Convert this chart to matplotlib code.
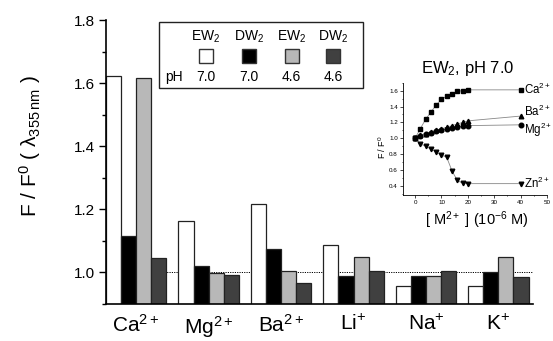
import matplotlib
matplotlib.use("Agg")
import matplotlib.pyplot as plt
import numpy as np
from matplotlib.patches import Rectangle
from matplotlib.ticker import MultipleLocator

plt.rcParams['font.family'] = ['Liberation Sans', 'DejaVu Sans']
plt.rcParams['mathtext.fontset'] = 'custom'
plt.rcParams['mathtext.rm'] = 'Liberation Sans'
plt.rcParams['mathtext.it'] = 'Liberation Sans:italic'
plt.rcParams['mathtext.bf'] = 'Liberation Sans:bold'

# ---------------- data ----------------
ions = ['Ca$^{2+}$', 'Mg$^{2+}$', 'Ba$^{2+}$', 'Li$^{+}$', 'Na$^{+}$', 'K$^{+}$']
ew2_ph70 = [1.622, 1.162, 1.218, 1.088, 0.957, 0.957]
dw2_ph70 = [1.117, 1.020, 1.074, 0.990, 0.988, 1.000]
ew2_ph46 = [1.617, 0.999, 1.004, 1.048, 0.990, 1.050]
dw2_ph46 = [1.045, 0.992, 0.966, 1.004, 1.004, 0.987]
series_names = ['EW$_2$', 'DW$_2$', 'EW$_2$', 'DW$_2$']
series_ph = ['7.0', '7.0', '4.6', '4.6']

# inset titration data
conc = [0, 2, 4, 6, 8, 10, 12, 14, 16, 18, 20, 40]
ca_fit = [1.0, 1.123, 1.24, 1.33, 1.42, 1.49, 1.53, 1.56, 1.59, 1.60, 1.61, 1.61]
ba_fit = [1.0, 1.04, 1.06, 1.08, 1.10, 1.12, 1.14, 1.16, 1.18, 1.20, 1.22, 1.28]
mg_fit = [1.0, 1.03, 1.05, 1.07, 1.09, 1.10, 1.12, 1.13, 1.14, 1.15, 1.16, 1.17]
zn_fit = [1.0, 0.93, 0.90, 0.865, 0.83, 0.79, 0.76, 0.59, 0.47, 0.435, 0.43, 0.43]
inset_labels = ['Ca$^{2+}$', 'Ba$^{2+}$', 'Mg$^{2+}$', 'Zn$^{2+}$']

# ---------------- figure ----------------
W, H = 553, 341
fig = plt.figure(figsize=(W / 100, H / 100), dpi=100)
ax = fig.add_axes([106 / W, 1 - 304 / H, (533 - 106) / W, (304 - 20) / H])

colors = ['white', 'black', '#b8b8b8', '#404040']
all_series = [ew2_ph70, dw2_ph70, ew2_ph46, dw2_ph46]
x = np.arange(len(ions))
w = 0.207
for i, (vals, c) in enumerate(zip(all_series, colors)):
    ax.bar(x + (i - 1.5) * w, vals, width=w, color=c, edgecolor='#222222',
           linewidth=0.9, zorder=2)

ax.axhline(1.0, color='black', linestyle=(0, (1.2, 1.2)), linewidth=0.7, zorder=1)
ax.set_xlim(-2 * w, 5.476)
ax.set_ylim(0.9, 1.8)
ax.set_xticks(x)
ax.set_xticklabels(ions, fontsize=15)
ax.tick_params(axis='x', length=0, pad=7)
ax.yaxis.set_minor_locator(MultipleLocator(0.1))
ax.set_yticks([1.0, 1.2, 1.4, 1.6, 1.8])
ax.set_yticklabels(['%.1f' % v for v in [1.0, 1.2, 1.4, 1.6, 1.8]], fontsize=11)
ax.tick_params(axis='y', which='major', length=5, width=1, direction='out', pad=3)
ax.tick_params(axis='y', which='minor', length=3, width=1, direction='out')
for s in ['top', 'right']:
    ax.spines[s].set_visible(False)
for s in ['left', 'bottom']:
    ax.spines[s].set_linewidth(1.2)
ax.set_ylabel('F / F$^{0}$ ( λ$_{355\\,\\mathrm{nm}}$ )', fontsize=15)
ax.yaxis.set_label_coords(-0.148, 0.556)

# ---------------- legend box (pixel overlay) ----------------
ov = fig.add_axes([0, 0, 1, 1], zorder=5)
ov.set_xlim(0, W)
ov.set_ylim(H, 0)
ov.axis('off')
ov.add_patch(Rectangle((159, 21.5), 204, 66, facecolor='white', edgecolor='#222222', lw=1.0))
col_x = [205.5, 249, 291.5, 333]
for cx, name, ph, c in zip(col_x, series_names, series_ph, colors):
    ov.text(cx, 37, name, ha='center', va='center', fontsize=10)
    ov.add_patch(Rectangle((cx - 7, 49), 14, 14, facecolor=c, edgecolor='#333333', lw=1.0))
    ov.text(cx, 77, ph, ha='center', va='center', fontsize=10)
ov.text(165, 77, 'pH', ha='left', va='center', fontsize=10)

# ---------------- inset ----------------
ai = fig.add_axes([402.7 / W, 1 - 195 / H, (547 - 402.7) / W, (195 - 82.7) / H], zorder=4)
ai.patch.set_alpha(0)
markers = ['s', '^', 'o', 'v']
for vals, m in zip([ca_fit, ba_fit, mg_fit, zn_fit], markers):
    ai.plot(conc, vals, color='#888888', lw=0.6, zorder=1)
    ai.plot(conc, vals, linestyle='none', marker=m, color='black', markersize=3.3, zorder=2)
label_off = [0.0, 0.06, -0.06, 0.0]
for vals, lab, off in zip([ca_fit, ba_fit, mg_fit, zn_fit], inset_labels, label_off):
    ai.text(41.3, vals[-1] + off, lab, fontsize=8.3, ha='left', va='center', clip_on=False)
ai.set_xlim(-4.7, 50)
ai.set_ylim(0.287, 1.70)
ai.xaxis.set_major_locator(MultipleLocator(10))
ai.xaxis.set_minor_locator(MultipleLocator(5))
ai.yaxis.set_major_locator(MultipleLocator(0.2))
ai.yaxis.set_minor_locator(MultipleLocator(0.1))
ai.tick_params(which='major', length=2, width=0.5, labelsize=4.5, pad=1.5)
ai.tick_params(which='minor', length=1, width=0.5)
ai.yaxis.set_major_formatter(matplotlib.ticker.FormatStrFormatter('%.1f'))
for s in ['top', 'right']:
    ai.spines[s].set_visible(False)
for s in ['left', 'bottom']:
    ai.spines[s].set_linewidth(0.6)
ai.text(0.45, 1.13, 'EW$_2$, pH 7.0', transform=ai.transAxes, ha='center', va='center', fontsize=12)
ai.text(0.515, -0.225, '[ M$^{2+}$ ] (10$^{-6}$ M)', transform=ai.transAxes, ha='center', va='center', fontsize=10.5)
ai.text(-0.14, 0.427, 'F / F$^{0}$', transform=ai.transAxes, ha='center', va='center', fontsize=6.5, rotation=90)

fig.savefig('out.png', dpi=100)
